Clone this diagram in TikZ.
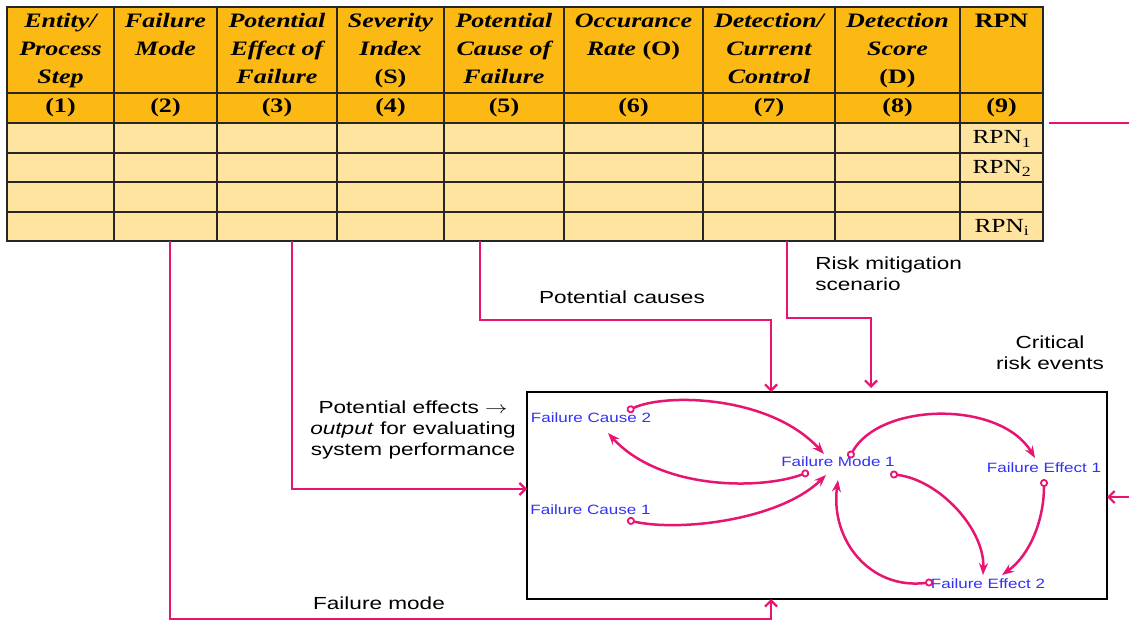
\documentclass[tikz,border=0pt]{standalone}
\usepackage{fontspec}
\setmainfont{Liberation Serif}
\setsansfont{Liberation Sans}
\usetikzlibrary{arrows.meta}
\definecolor{hdr}{RGB}{253,185,19}
\definecolor{cellc}{RGB}{255,228,160}
\definecolor{pinkc}{RGB}{232,20,112}
\definecolor{bluec}{RGB}{50,50,245}
\begin{document}
\begin{tikzpicture}[x=1pt,y=-1pt,
  hd/.style={anchor=north, inner sep=0pt, align=center, xscale=1.27, font=\fontsize{20.5}{28}\selectfont\bfseries\itshape},
  num/.style={inner sep=0pt, xscale=1.27, font=\fontsize{20.5}{24}\selectfont\bfseries},
  rpn/.style={inner sep=0pt, xscale=1.27, font=\fontsize{20}{24}\selectfont},
  lbl/.style={inner sep=0pt, xscale=1.29, align=center, font=\sffamily\fontsize{17.5}{21}\selectfont},
  var/.style={inner sep=0pt, xscale=1.26, text=bluec, font=\sffamily\fontsize{13.5}{15}\selectfont},
  link/.style={draw=pinkc, line width=2.5pt, {Circle[open,length=8pt,width=8pt,line width=1.8pt]}-{Stealth[length=12pt,width=9pt]}},
  flow/.style={draw=pinkc, line width=2.6pt, -{Straight Barb[length=6pt,width=12pt,line width=2.2pt]}},
  plain/.style={draw=pinkc, line width=2.6pt},
  tgrid/.style={line width=1.7pt, draw=black!85}
]
\useasboundingbox[fill=white] (0,0) rectangle (1129,621);

% ---------- table ----------
\fill[hdr] (7,7) rectangle (1043,123);
\fill[cellc] (7,123) rectangle (1043,241);
\foreach \yy in {93,123,153,182,212} \draw[tgrid] (7,\yy) -- (1043,\yy);
\foreach \xx in {114,217,337,444,564,703,835,960} \draw[tgrid] (\xx,7) -- (\xx,241);
\draw[tgrid] (7,7) rectangle (1043,241);

\node[hd] (h1) at (60.5,7.4) {\strut Entity/\\Process\\Step};
\node[hd] (h2) at (165.5,7.4) {\strut Failure\\Mode};
\node[hd] (h3) at (277,7.4) {\strut Potential\\Effect of\\Failure};
\node[hd] (h4) at (390.5,7.4) {\strut Severity\\Index\\\textup{(S)}};
\node[hd] (h5) at (504,7.4) {\strut Potential\\Cause of\\Failure};
\node[hd] (h6) at (633.5,7.4) {\strut Occurance\\Rate \textup{(O)}};
\node[hd] (h7) at (769,7.4) {\strut Detection/\\Current\\Control};
\node[hd] (h8) at (897.5,7.4) {\strut Detection\\Score\\\textup{(D)}};
\node[hd] (h9) at (1001.5,7.4) {\strut\textup{RPN}};

\node[num] (n1) at (60.5,108) {(1)};
\node[num] (n2) at (165.5,108) {(2)};
\node[num] (n3) at (277,108) {(3)};
\node[num] (n4) at (390.5,108) {(4)};
\node[num] (n5) at (504,108) {(5)};
\node[num] (n6) at (633.5,108) {(6)};
\node[num] (n7) at (769,108) {(7)};
\node[num] (n8) at (897.5,108) {(8)};
\node[num] (n9) at (1001.5,108) {(9)};

\node[rpn] (r1) at (1002,139) {RPN\textsubscript{1}};
\node[rpn] (r2) at (1002,168.5) {RPN\textsubscript{2}};
\node[rpn] (r4) at (1002,227.5) {RPN\textsubscript{i}};

\coordinate (c2) at (170,241);
\coordinate (c3) at (292,241);
\coordinate (c5) at (480,241);
\coordinate (c7) at (787,241);

% ---------- model box ----------
\node[draw, line width=2.4pt, minimum width=580pt, minimum height=207pt, inner sep=0pt, outer sep=0pt] (box) at (817,495.5) {};

\node[var] (fc2) at (591,418) {Failure Cause 2};
\node[var] (fm1) at (838,462) {Failure Mode 1};
\node[var] (fe1) at (1044,468) {Failure Effect 1};
\node[var] (fc1) at (590.5,510) {Failure Cause 1};
\node[var] (fe2) at (988,584) {Failure Effect 2};

\coordinate (s1) at (627,411); \coordinate (e1) at (824,454);
\coordinate (s2) at (809,472); \coordinate (e2) at (608,433);
\coordinate (s3) at (627,520); \coordinate (e3) at (826,475);
\coordinate (s4) at (849,458); \coordinate (e4) at (1035,458);
\coordinate (s5) at (890,474); \coordinate (e5) at (983,575);
\coordinate (s6) at (1044,479); \coordinate (e6) at (1002,575);
\coordinate (s7) at (933,582); \coordinate (e7) at (838,480);

\draw[link] (s1) .. controls (665,393) and (770,395) .. (e1);
\draw[link] (s2) .. controls (760,490) and (660,490) .. (e2);
\draw[link] (s3) .. controls (680,532) and (780,520) .. (e3);
\draw[link] (s4) .. controls (880,402) and (1000,400) .. (e4);
\draw[link] (s5) .. controls (940,480) and (985,530) .. (e5);
\draw[link] (s6) .. controls (1044,520) and (1030,555) .. (e6);
\draw[link] (s7) .. controls (870,590) and (830,540) .. (e7);

% ---------- connectors ----------
\coordinate (a1) at (771,619);
\draw[flow] (c2) |- (a1) -- (a1 |- box.south);
\coordinate (a2) at (527,489);
\draw[flow] (c3) |- (a2);
\coordinate (a3) at (771,320);
\draw[flow] (c5) |- (a3) -- (a3 |- box.north);
\coordinate (a4) at (871,318);
\coordinate (a4e) at (871,388);
\draw[flow] (c7) |- (a4) -- (a4e);
\coordinate (a5) at (1129,497);
\draw[flow] (a5) -- (a5 -| box.east);
\coordinate (a6) at (1049,123);
\coordinate (a7) at (1129,123);
\draw[plain] (a6) -- (a7);

% ---------- labels ----------
\node[lbl] (lfm) at (379,603) {Failure mode};
\node[lbl] (lpc) at (622,297) {Potential causes};
\node[lbl, anchor=west, align=left] (lrm) at (815,273.5) {Risk mitigation\\scenario};
\node[lbl] (lcr) at (1050,353) {Critical\\risk events};
\node[lbl] (lpe) at (413,430) {Potential effects $\rightarrow$\\\textit{output} for evaluating\\system performance};
\end{tikzpicture}
\end{document}
